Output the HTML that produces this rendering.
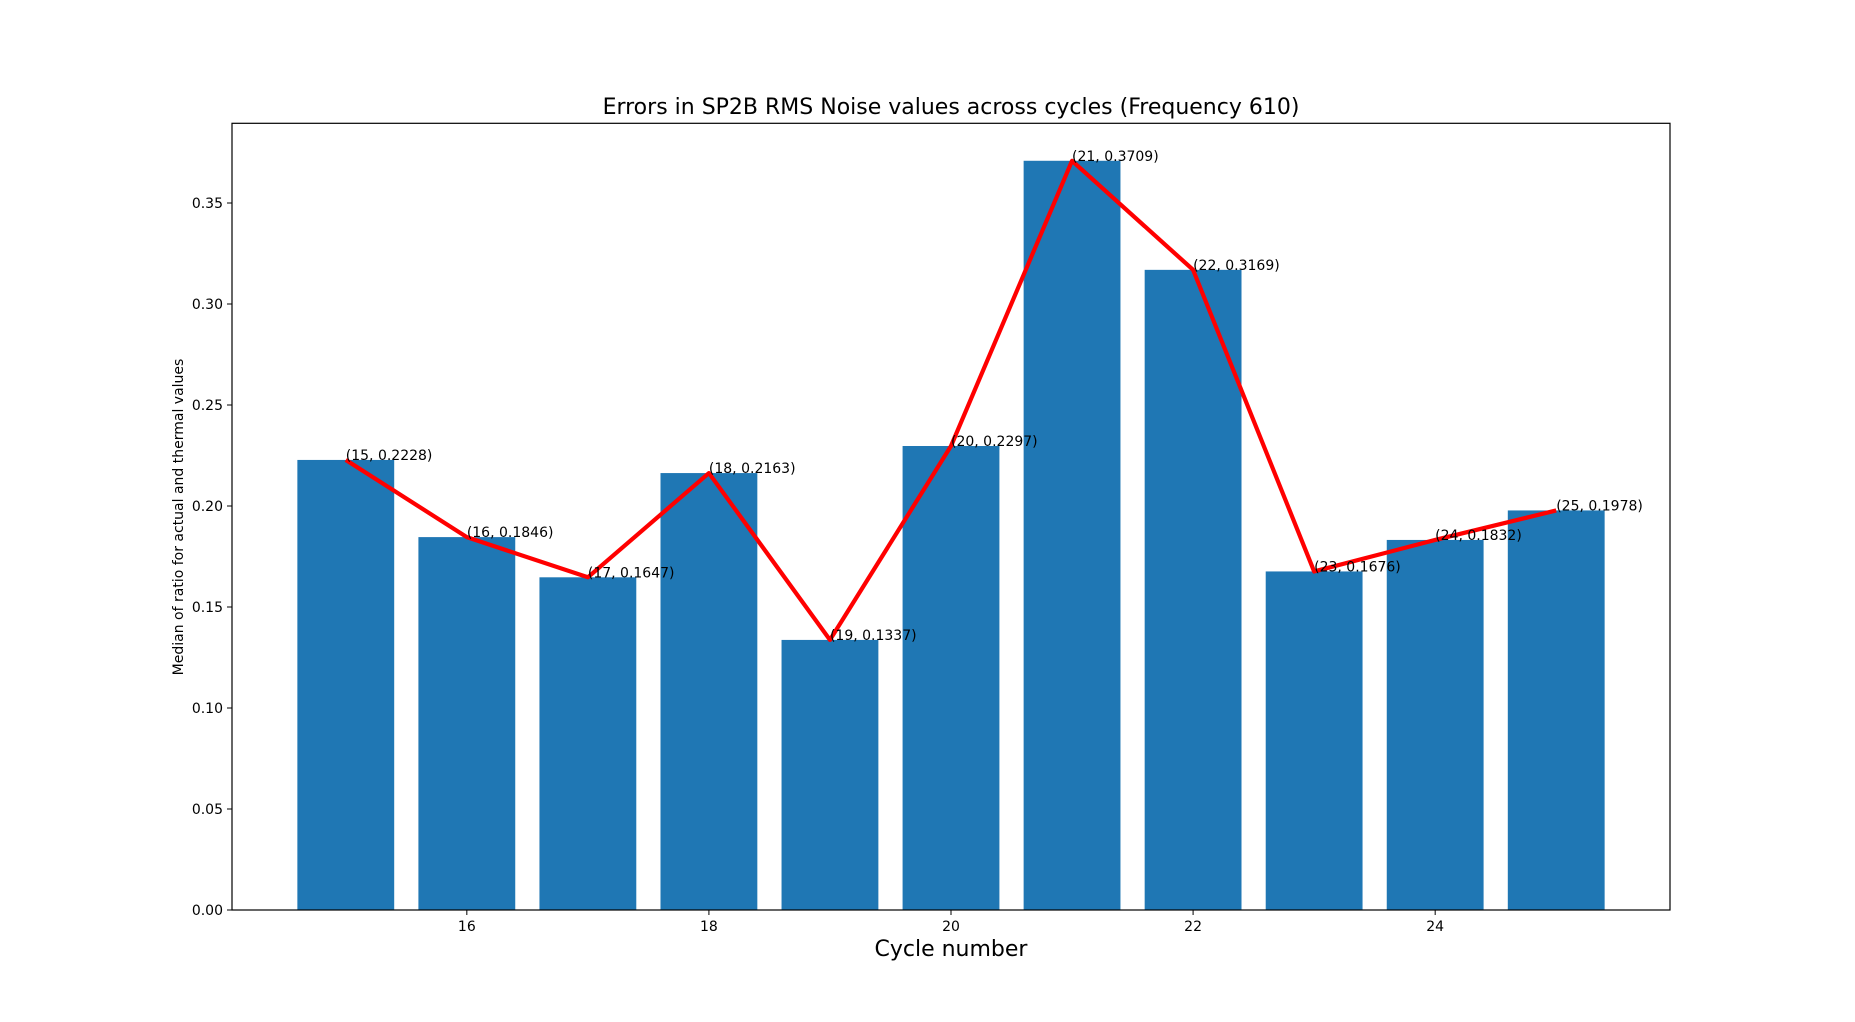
<!DOCTYPE html>
<html><head><meta charset="utf-8"><style>
html,body{margin:0;padding:0;background:#fff;}
svg{display:block;font-family:"DejaVu Sans","Liberation Sans",sans-serif;}
</style></head><body>
<svg id="chart" width="1855" height="1022" viewBox="0 0 1855 1022" xmlns="http://www.w3.org/2000/svg">
<rect width="1855" height="1022" fill="#fff"/>
<text x="951" y="114" font-size="22" text-anchor="middle" fill="#000">Errors in SP2B RMS Noise values across cycles (Frequency 610)</text>
<g id="bars"></g>
<g id="line"></g>
<g id="annots"></g>
<g id="xaxis"></g>
<g id="yaxis"></g>
<rect x="232" y="123.3" width="1438" height="786.7" fill="none" stroke="#000" stroke-width="1.2"/>
<text x="951" y="956" font-size="22" text-anchor="middle" fill="#000">Cycle number</text>
<text transform="translate(183,517) rotate(-90)" font-size="14" text-anchor="middle" fill="#000">Median of ratio for actual and thermal values</text>
</svg>
<script>
const cycles = [15,16,17,18,19,20,21,22,23,24,25];
const values = [0.2228,0.1846,0.1647,0.2163,0.1337,0.2297,0.3709,0.3169,0.1676,0.1832,0.1978];
const xTicks = [16,18,20,22,24];
const yTicks = [0,0.05,0.10,0.15,0.20,0.25,0.30,0.35];

const L=232,R=1670,T=123.3,B=910;
const xMin=14.06,xMax=25.94,yMin=0,yMax=0.38945;
const NS='http://www.w3.org/2000/svg';
function xs(v){return L+(v-xMin)/(xMax-xMin)*(R-L);}
function ys(v){return B-(v-yMin)/(yMax-yMin)*(B-T);}
function mk(tag,attrs,parent){const e=document.createElementNS(NS,tag);for(const k in attrs)e.setAttribute(k,attrs[k]);parent.appendChild(e);return e;}
const gb=document.getElementById('bars'),gl=document.getElementById('line'),ga=document.getElementById('annots'),gx=document.getElementById('xaxis'),gy=document.getElementById('yaxis');
cycles.forEach((c,i)=>{
  const x0=xs(c-0.4),x1=xs(c+0.4),y=ys(values[i]);
  const r=mk('rect',{x:x0,y:y,width:x1-x0,height:B-y,fill:'#1f77b4'},gb);
  
  
});
const pts=cycles.map((c,i)=>xs(c)+','+ys(values[i])).join(' ');
const pl=mk('polyline',{points:pts,fill:'none',stroke:'#ff0000','stroke-width':4.2,'stroke-linejoin':'round'},gl);


cycles.forEach((c,i)=>{
  const t=mk('text',{x:xs(c),y:ys(values[i]),'font-size':14,fill:'#000'},ga);
  t.textContent='('+c+', '+values[i].toFixed(4)+')';
  
  
});
xTicks.forEach(v=>{
  const x=xs(v);
  const l=mk('line',{x1:x,x2:x,y1:B,y2:B+5,stroke:'#000','stroke-width':1},gx);
  
  
  const t=mk('text',{x:x,y:B+21,'font-size':14,'text-anchor':'middle',fill:'#000'},gx);
  t.textContent=v;
  
  
});
yTicks.forEach(v=>{
  const y=ys(v);
  const l=mk('line',{x1:L-5,x2:L,y1:y,y2:y,stroke:'#000','stroke-width':1},gy);
  
  
  const t=mk('text',{x:L-9,y:y+5,'font-size':14,'text-anchor':'end',fill:'#000'},gy);
  t.textContent=v.toFixed(2);
  
  
});
</script>
</body></html>
